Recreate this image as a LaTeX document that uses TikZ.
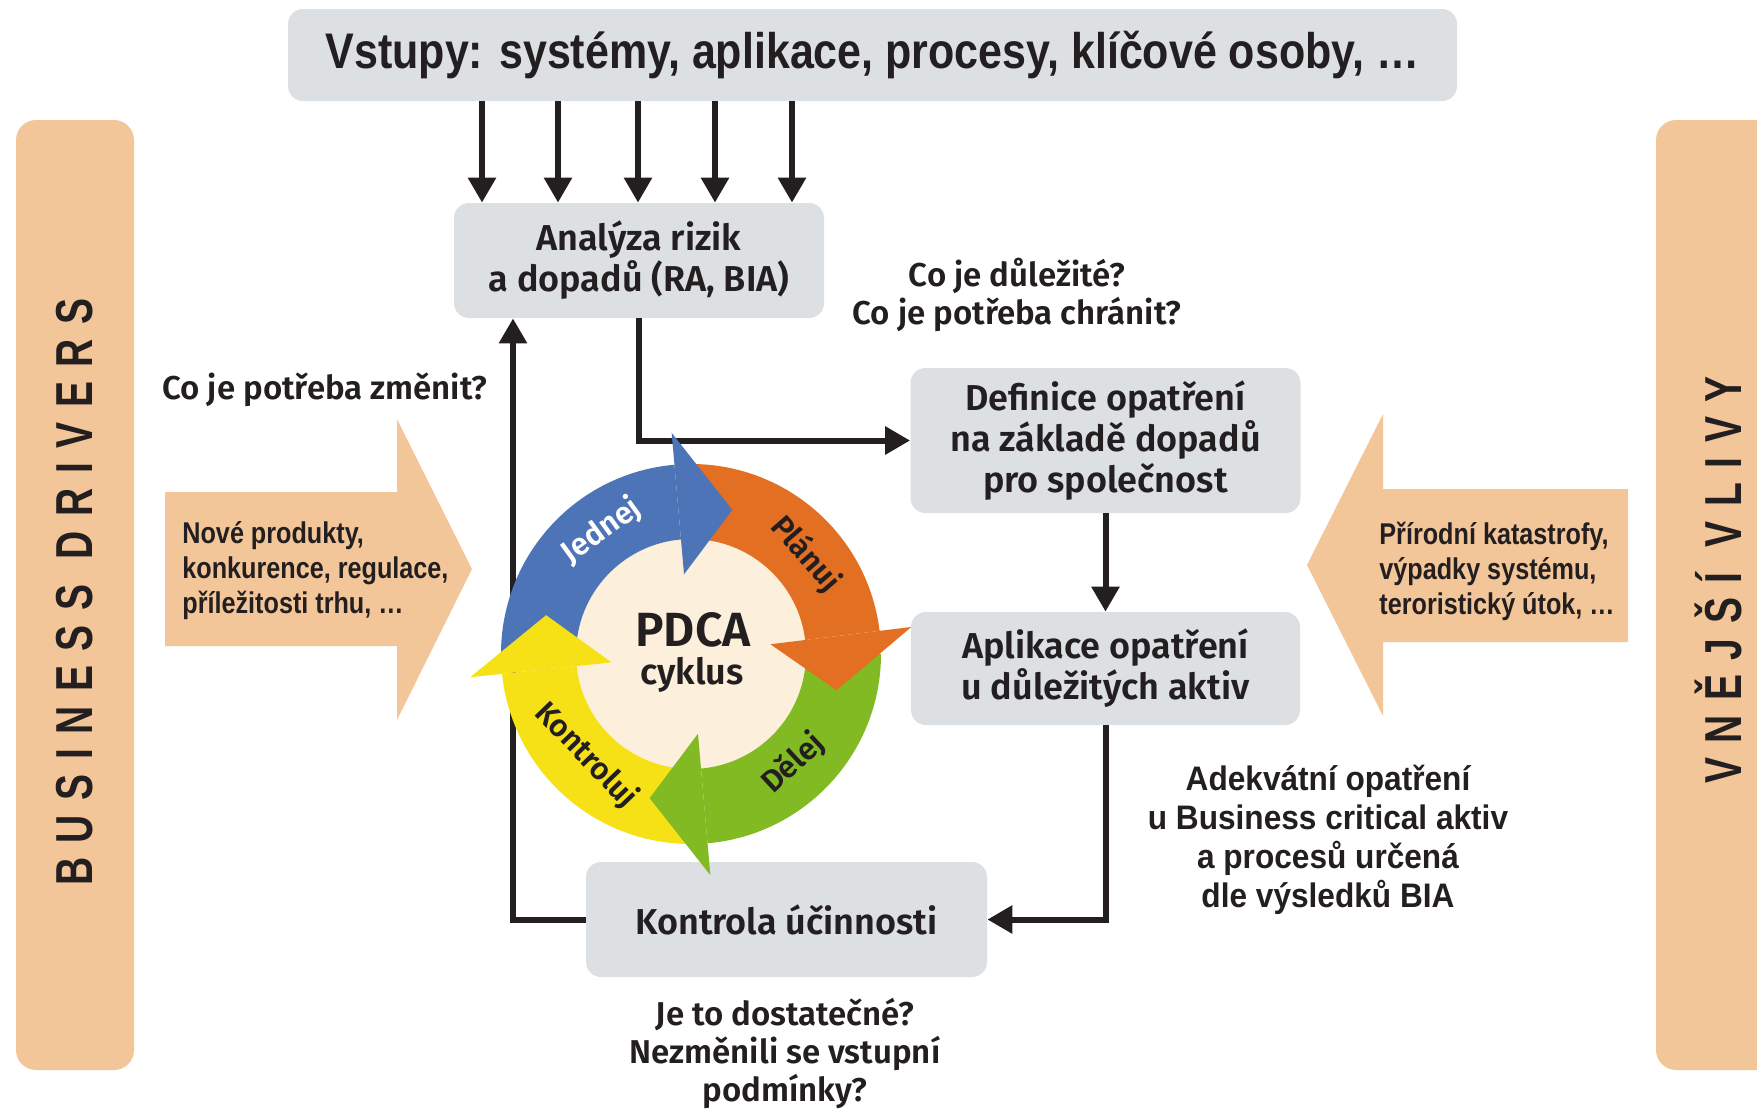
\documentclass[tikz,border=0pt]{standalone}
\usepackage{fontspec}
\setmainfont{Fira Sans}[BoldFont={Fira Sans SemiBold}]
\newfontfamily\condfont{Liberation Sans}[FakeStretch=0.84]
\newfontfamily\condwide{Liberation Sans}[FakeStretch=0.93]
\newfontfamily\narrowfont{Liberation Sans}[FakeStretch=0.86]
\newfontfamily\barfont{Liberation Sans}[FakeStretch=0.75,LetterSpace=28]
\usetikzlibrary{arrows.meta,calc}
\definecolor{boxgray}{HTML}{DCE0E3}
\definecolor{peach}{HTML}{F3C699}
\definecolor{pblue}{HTML}{4E74B8}
\definecolor{porange}{HTML}{E36F22}
\definecolor{pgreen}{HTML}{82BA24}
\definecolor{pyellow}{HTML}{F6E016}
\definecolor{cream}{HTML}{FCEFDB}
\definecolor{ink}{HTML}{231F20}
\tikzset{
  box/.style={fill=boxgray, rounded corners=7.5pt, align=center, text=ink,
    font=\fontsize{18}{20.5}\selectfont\bfseries, inner sep=0pt},
  conn/.style={draw=ink, line width=3pt, -{Triangle[length=12.5pt,width=13.5pt]}},
  lbl/.style={align=center, text=ink, font=\fontsize{16.5}{19}\selectfont\bfseries, inner sep=0pt},
  cond/.style={align=left, text=ink, font=\condfont\fontsize{15}{17.5}\selectfont\bfseries, inner sep=0pt},
  condc/.style={align=center, text=ink, font=\condwide\fontsize{17}{19.5}\selectfont\bfseries, inner sep=0pt},
  bartext/.style={text=ink, font=\barfont\fontsize{26}{28}\selectfont\bfseries, rotate=90, inner sep=0pt},
  ringtext/.style={font=\fontsize{15.5}{17}\selectfont\bfseries, inner sep=0pt},
}
\begin{document}
\begin{tikzpicture}[x=0.5pt,y=-0.5pt]
\clip (0,0) rectangle (1757,1109);
\fill[white] (0,0) rectangle (1757,1109);

% side bars
\fill[peach, rounded corners=10pt] (16,120) rectangle (134,1070);
\node[bartext] (bd) at (75,592) {BUSINESS DRIVERS};
\fill[peach, rounded corners=10pt] (1656,120) rectangle (1800,1070);
\node[bartext] (vv) at (1718,580) {VNĚJŠÍ VLIVY};

% big arrows
\fill[peach] (165,492) -- (397,492) -- (397,419) -- (472,569) -- (397,720) -- (397,646) -- (165,646) -- cycle;
\node[cond, anchor=west] (lt) at (182,571) {Nové produkty,\\konkurence, regulace,\\příležitosti trhu, …};
\fill[peach] (1628,489) -- (1383,489) -- (1383,414) -- (1307,565) -- (1383,716) -- (1383,642) -- (1628,642) -- cycle;
\node[cond, anchor=west] (rt) at (1379,571) {Přírodní katastrofy,\\výpadky systému,\\teroristický útok, …};

% boxes
\node[box, minimum width=584.5pt, minimum height=46pt, font=\narrowfont\fontsize{25}{30}\selectfont\bfseries] (inputs) at (872.5,55) {Vstupy: systémy, aplikace, procesy, klíčové osoby, …};
\node[box, minimum width=185pt, minimum height=57.5pt] (ra) at (639,260.5) {Analýza rizik\\a dopadů (RA, BIA)};
\node[box, minimum width=195pt, minimum height=72.5pt] (def) at (1105.5,440.5) {Definice opatření\\na základě dopadů\\pro společnost};
\node[box, minimum width=194.5pt, minimum height=56.5pt] (apl) at (1105.5,668.5) {Aplikace opatření\\u důležitých aktiv};
\node[box, minimum width=200.5pt, minimum height=57.5pt] (kon) at (786.5,919.5) {Kontrola účinnosti};

% labels
\node[lbl] (q1) at (1017,295) {Co je důležité?\\Co je potřeba chránit?};
\node[lbl] (q2) at (325,390) {Co je potřeba změnit?};
\node[condc] (q3) at (1328,840) {Adekvátní opatření\\u Business critical aktiv\\a procesů určená\\dle výsledků BIA};
\node[lbl] (q4) at (785,1053) {Je to dostatečné?\\Nezměnili se vstupní\\podmínky?};

% connectors
\foreach \xx in {482,558,638,715,792}
  \draw[conn] (inputs.south -| \xx,0) -- (ra.north -| \xx,0);
\draw[conn] (ra.south) |- (def.west);
\draw[conn] (def.south) -- (apl.north);
\draw[conn] (apl.south) |- (kon.east);
\draw[conn] (kon.west) -| (ra.south -| 513,0);

% PDCA ring
\begin{scope}[shift={(691,654)}, x=0.5pt, y=0.5pt]
  \fill[cream] (0,0) circle[radius=115];
  \foreach \s/\e/\c in {180/95/pblue, 90/7/porange, 0/-85/pgreen, -90/-174/pyellow}
    \fill[\c] (\s:190) arc[start angle=\s, end angle=\e, radius=190] -- (\e:115)
      arc[start angle=\e, end angle=\s, radius=115] -- cycle;
  \foreach \e/\c in {95/pblue, 7/porange, -85/pgreen, -174/pyellow}
    \fill[\c] (\e:80) -- (\e:222) -- ({\e-21}:150) -- cycle;
  \node[ringtext, text=white, rotate=36] (pj) at (126:152) {Jednej};
  \node[ringtext, text=ink, rotate=-49] (pp) at (41:152) {Plánuj};
  \node[ringtext, text=ink, rotate=43] (pd) at (-47:150) {Dělej};
  \node[ringtext, text=ink, rotate=-46] (pk) at (-136:146) {Kontroluj};
  \node[text=ink, font=\fontsize{24}{26}\selectfont\bfseries, inner sep=0pt] (pdca) at (2,24) {PDCA};
  \node[text=ink, font=\fontsize{18}{20}\selectfont\bfseries, inner sep=0pt] (cyk) at (1,-21) {cyklus};
\end{scope}
\end{tikzpicture}
\end{document}
